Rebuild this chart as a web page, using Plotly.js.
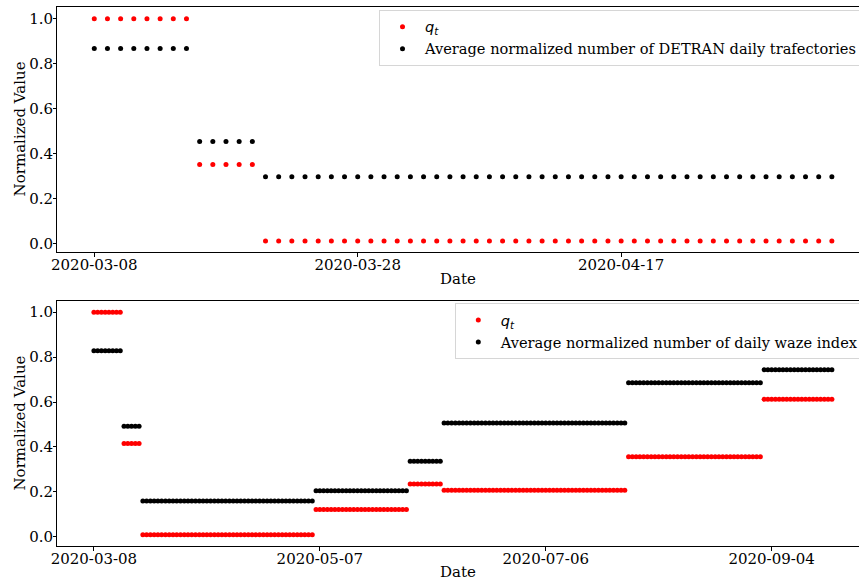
<!DOCTYPE html>
<html>
<head>
<meta charset="utf-8">
<script src="https://cdn.plot.ly/plotly-3.0.1.min.js"></script>
<style>
  html, body { margin: 0; padding: 0; background: #fff; }
  #chart { width: 859px; height: 581px; }
</style>
</head>
<body>
<div id="chart"></div>
<script>
// Policy phases (inclusive first/last day) with the daily value held in each phase.
// Upper panel: q_t against DETRAN trajectories.
const detranPhaseStart = ['2020-03-08', '2020-03-16', '2020-03-21'];
const detranPhaseEnd   = ['2020-03-15', '2020-03-20', '2020-05-03'];
const detranQt         = [1.0, 0.351, 0.0104];
const detranAverage    = [0.867, 0.4535, 0.296];

// Lower panel: q_t against the waze index.
const wazePhaseStart = ['2020-03-08', '2020-03-16', '2020-03-21', '2020-05-06',
                        '2020-05-31', '2020-06-09', '2020-07-28', '2020-09-02'];
const wazePhaseEnd   = ['2020-03-15', '2020-03-20', '2020-05-05', '2020-05-30',
                        '2020-06-08', '2020-07-27', '2020-09-01', '2020-09-20'];
const wazeQt         = [1.0, 0.416, 0.009, 0.122, 0.235, 0.207, 0.357, 0.612];
const wazeAverage    = [0.828, 0.492, 0.160, 0.205, 0.336, 0.507, 0.686, 0.744];

// Tick dates shown on each date axis.
const detranTicks = ['2020-03-08', '2020-03-28', '2020-04-17'];
const wazeTicks   = ['2020-03-08', '2020-05-07', '2020-07-06', '2020-09-04'];
const yTicks      = [0.0, 0.2, 0.4, 0.6, 0.8, 1.0];

const DAY = 86400000;
function toMs(s) { const p = s.split('-').map(Number); return Date.UTC(p[0], p[1] - 1, p[2]); }
function toStr(ms) { return new Date(ms).toISOString().slice(0, 19).replace('T', ' '); }

// One point per day inside every phase.
function dailySeries(starts, ends, values) {
  const x = [], y = [];
  for (let i = 0; i < starts.length; i++) {
    for (let t = toMs(starts[i]); t <= toMs(ends[i]); t += DAY) {
      x.push(toStr(t).slice(0, 10));
      y.push(values[i]);
    }
  }
  return { x, y };
}

const FONT = 'DejaVu Serif, serif';
const SIZE = 15;
const LEGEND_SIZE = 14.6;
const qtName = '<span style="font-family:DejaVu Sans"><i>q</i><sub><i>t</i></sub></span>';

function dots(series, color, name, xa, ya, legend) {
  return {
    type: 'scatter', mode: 'markers', x: series.x, y: series.y, name: name,
    xaxis: xa, yaxis: ya, legend: legend,
    marker: { color: color, size: 5, line: { width: 0 } }
  };
}

const traces = [
  dots(dailySeries(detranPhaseStart, detranPhaseEnd, detranQt), '#ff0000', qtName, 'x', 'y', 'legend'),
  dots(dailySeries(detranPhaseStart, detranPhaseEnd, detranAverage), '#000000',
       'Average normalized number of DETRAN daily trafectories', 'x', 'y', 'legend'),
  dots(dailySeries(wazePhaseStart, wazePhaseEnd, wazeQt), '#ff0000', qtName, 'x2', 'y2', 'legend2'),
  dots(dailySeries(wazePhaseStart, wazePhaseEnd, wazeAverage), '#000000',
       'Average normalized number of daily waze index', 'x2', 'y2', 'legend2')
];

function dateAxis(ticks, startDay, endDay, anchor) {
  const origin = toMs(ticks[0]);
  return {
    type: 'date', anchor: anchor,
    range: [toStr(origin + startDay * DAY), toStr(origin + endDay * DAY)],
    tickmode: 'array', tickvals: ticks, ticktext: ticks,
    ticks: 'outside', ticklen: 4, tickwidth: 1, tickcolor: '#000',
    ticklabelstandoff: -5,
    showline: true, linecolor: '#000', linewidth: 1, mirror: true,
    showgrid: false, zeroline: false,
    tickfont: { family: FONT, size: SIZE, color: '#000' },
    title: { text: 'Date', font: { family: FONT, size: SIZE, color: '#000' }, standoff: 0 }
  };
}

// The plotting area runs past the right edge, so no right-hand spine is drawn.
function valueAxis(lo, hi, anchor, domain) {
  return {
    anchor: anchor, domain: domain, range: [lo, hi],
    tickmode: 'array', tickvals: yTicks, ticktext: yTicks.map(v => v.toFixed(1)),
    ticks: 'outside', ticklen: 3, tickwidth: 1, tickcolor: '#000',
    ticklabelstandoff: -3,
    showline: true, linecolor: '#000', linewidth: 1, mirror: false,
    showgrid: false, zeroline: false,
    tickfont: { family: FONT, size: SIZE, color: '#000' }
  };
}

// Vertical axis titles, set close to the tick labels.
function yTitle(yCenter) {
  return {
    text: 'Normalized Value', textangle: -90, showarrow: false,
    xref: 'paper', yref: 'paper', x: -0.0461, y: yCenter,
    xanchor: 'center', yanchor: 'middle',
    font: { family: FONT, size: SIZE, color: '#000' }
  };
}

function legendBox(x, y) {
  return {
    x: x, y: y, xanchor: 'left', yanchor: 'top',
    bgcolor: 'rgba(255,255,255,0.85)', bordercolor: '#d6d6d6', borderwidth: 1,
    font: { family: FONT, size: LEGEND_SIZE, color: '#000' },
    itemwidth: 35, tracegroupgap: 0
  };
}

const layout = {
  width: 859, height: 581,
  margin: { l: 57, r: 0, t: 7, b: 35, autoexpand: false },
  paper_bgcolor: '#fff', plot_bgcolor: '#fff',
  showlegend: true,
  xaxis: dateAxis(detranTicks, -2.83, 58.06, 'y'),
  yaxis: valueAxis(-0.0375, 1.052, 'x', [0.546, 1]),
  xaxis2: dateAxis(wazeTicks, -9.8, 203.2, 'y2'),
  yaxis2: valueAxis(-0.0406, 1.0496, 'x2', [0, 0.4545]),
  legend: legendBox(0.4015, 0.995),
  legend2: legendBox(0.496, 0.451),
  annotations: [yTitle(0.773), yTitle(0.2273)]
};

Plotly.newPlot('chart', traces, layout, { displayModeBar: false, staticPlot: true });
</script>
</body>
</html>
